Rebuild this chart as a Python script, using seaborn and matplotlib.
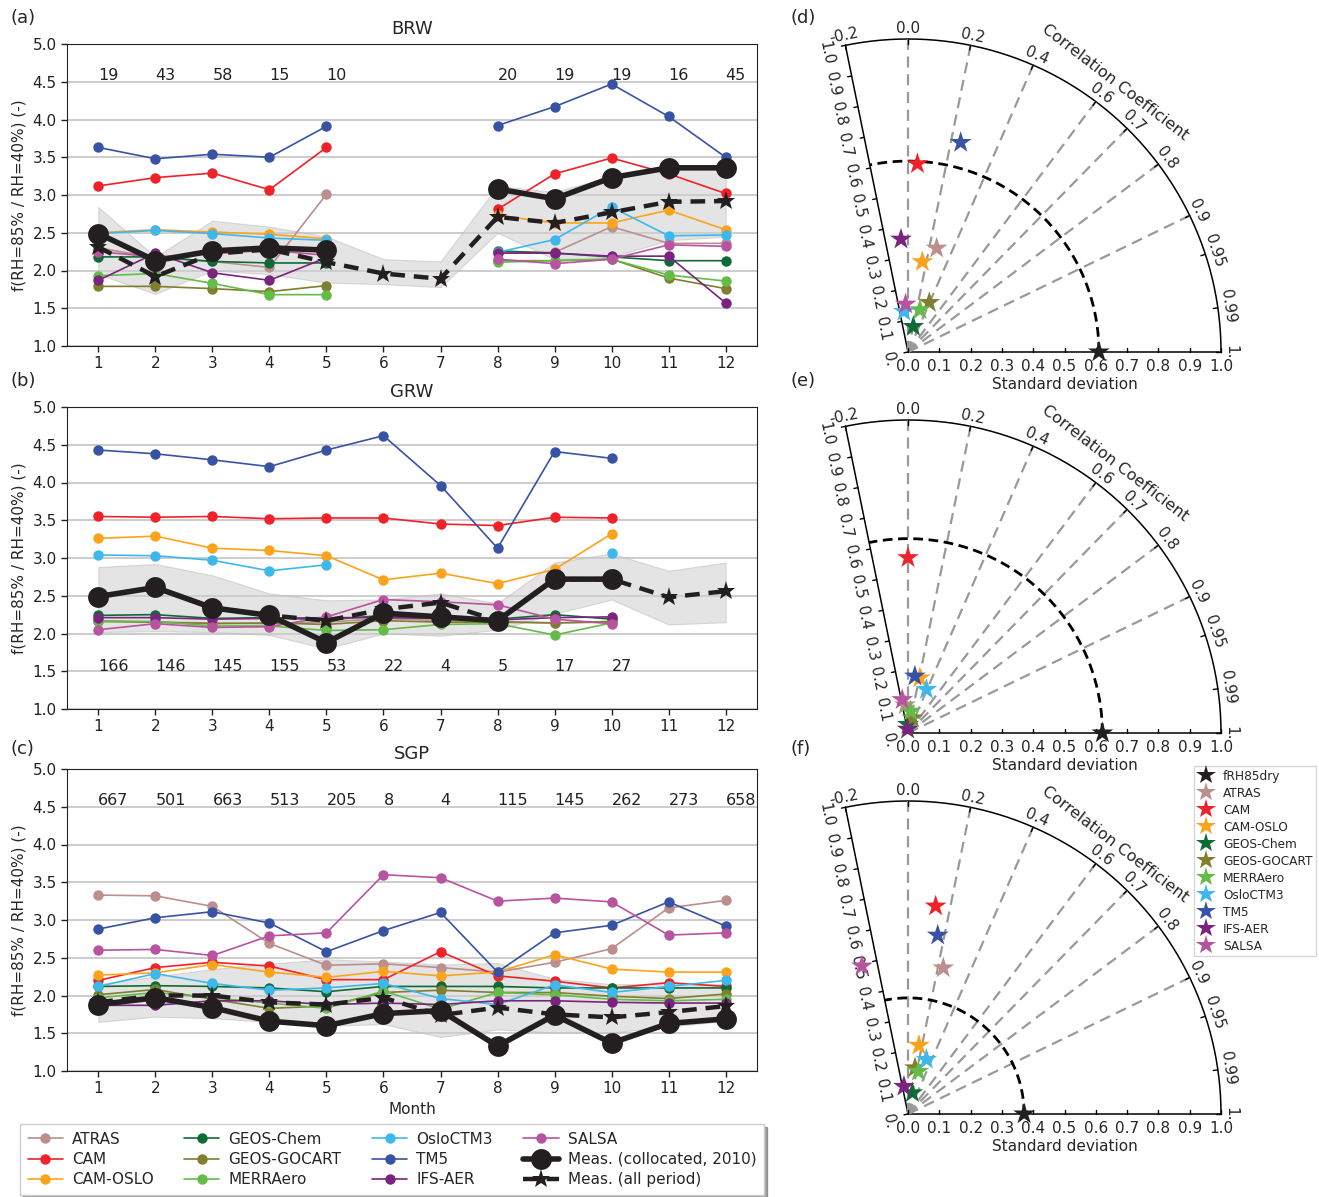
import numpy as np
import pandas as pd
import matplotlib
matplotlib.use('Agg')
import matplotlib.pyplot as plt
import seaborn as sns
from matplotlib.lines import Line2D

nan = np.nan

MONTHS = list(range(1, 13))
MODELS = ['ATRAS', 'CAM', 'CAM-OSLO', 'GEOS-Chem', 'GEOS-GOCART', 'MERRAero',
          'OsloCTM3', 'TM5', 'IFS-AER', 'SALSA']
COLORS = ['#BC8E8E', '#EE2228', '#FBA31C', '#0F6B36', '#7F7F2F', '#64BB47',
          '#3EB8EA', '#3953A4', '#7A2480', '#B8549F']
MEAS_COLOR = '#231F20'

# ---- BRW (a) ----
brw_atras = [2.30, 2.17, 2.12, 2.04, 3.01, nan, nan, 2.24, 2.24, 2.58, 2.36, 2.36]
brw_cam = [3.12, 3.23, 3.29, 3.07, 3.63, nan, nan, 2.81, 3.28, 3.49, 3.28, 3.02]
brw_camoslo = [2.50, 2.54, 2.51, 2.48, 2.42, nan, nan, 2.73, 2.63, 2.63, 2.80, 2.54]
brw_geoschem = [2.18, 2.18, 2.12, 2.10, 2.10, nan, nan, 2.26, 2.23, 2.18, 2.13, 2.13]
brw_gocart = [1.79, 1.79, 1.76, 1.72, 1.80, nan, nan, 2.13, 2.13, 2.15, 1.90, 1.76]
brw_merra = [1.93, 1.96, 1.83, 1.68, 1.68, nan, nan, 2.11, 2.13, 2.15, 1.94, 1.86]
brw_oslo = [2.49, 2.53, 2.49, 2.43, 2.40, nan, nan, 2.24, 2.41, 2.84, 2.46, 2.47]
brw_tm5 = [3.63, 3.48, 3.54, 3.50, 3.91, nan, nan, 3.92, 4.17, 4.47, 4.04, 3.50]
brw_ifs = [1.87, 2.23, 1.97, 1.87, 2.17, nan, nan, 2.23, 2.23, 2.19, 2.19, 1.57]
brw_salsa = [2.25, 2.18, 2.22, 2.27, 2.20, nan, nan, 2.15, 2.09, 2.15, 2.34, 2.32]
brw_coll = [2.49, 2.13, 2.26, 2.30, 2.27, nan, nan, 3.08, 2.95, 3.23, 3.36, 3.36]
brw_all = [2.31, 1.92, 2.22, 2.28, 2.11, 1.96, 1.89, 2.71, 2.63, 2.77, 2.91, 2.92]
brw_lo = [1.95, 1.69, 2.00, 1.95, 1.84, 1.82, 1.78, 2.50, 2.15, 2.18, 2.40, 2.45]
brw_hi = [2.84, 2.18, 2.66, 2.58, 2.45, 2.15, 2.12, 3.12, 3.04, 3.25, 3.35, 3.35]
brw_n = [19, 43, 58, 15, 10, None, None, 20, 19, 19, 16, 45]

# ---- GRW (b) ----
grw_atras = [2.17, 2.15, 2.14, 2.13, 2.15, 2.20, 2.17, 2.16, 2.14, 2.15, nan, nan]
grw_cam = [3.55, 3.54, 3.55, 3.52, 3.53, 3.53, 3.45, 3.43, 3.54, 3.53, nan, nan]
grw_camoslo = [3.26, 3.29, 3.13, 3.10, 3.03, 2.71, 2.80, 2.66, 2.85, 3.32, nan, nan]
grw_geoschem = [2.24, 2.25, 2.20, 2.21, 2.18, 2.24, 2.20, 2.19, 2.25, 2.19, nan, nan]
grw_gocart = [2.16, 2.15, 2.13, 2.14, 2.12, 2.17, 2.15, 2.15, 2.14, 2.16, nan, nan]
grw_merra = [2.16, 2.16, 2.10, 2.10, 2.04, 2.05, 2.12, 2.13, 1.98, 2.14, nan, nan]
grw_oslo = [3.04, 3.03, 2.97, 2.83, 2.91, nan, nan, nan, nan, 3.07, nan, nan]
grw_tm5 = [4.43, 4.38, 4.30, 4.21, 4.43, 4.62, 3.96, 3.13, 4.41, 4.32, nan, nan]
grw_ifs = [2.21, 2.21, 2.19, 2.20, 2.21, 2.21, 2.20, 2.18, 2.21, 2.22, nan, nan]
grw_salsa = [2.05, 2.13, 2.08, 2.09, 2.22, 2.45, 2.42, 2.38, 2.19, 2.13, nan, nan]
grw_coll = [2.49, 2.61, 2.34, 2.24, 1.88, 2.27, 2.22, 2.17, 2.72, 2.72, nan, nan]
grw_all = [2.49, 2.61, 2.34, 2.24, 2.17, 2.32, 2.41, 2.17, 2.72, 2.72, 2.48, 2.56]
grw_lo = [2.02, 2.03, 2.02, 1.98, 1.80, 2.00, 1.97, 2.05, 2.26, 2.45, 2.12, 2.15]
grw_hi = [2.88, 2.92, 2.77, 2.53, 2.44, 2.45, 2.53, 2.40, 2.94, 3.06, 2.83, 2.94]
grw_n = [166, 146, 145, 155, 53, 22, 4, 5, 17, 27, None, None]

# ---- SGP (c) ----
sgp_atras = [3.33, 3.32, 3.18, 2.69, 2.40, 2.42, 2.37, 2.31, 2.44, 2.62, 3.16, 3.26]
sgp_cam = [2.20, 2.37, 2.44, 2.39, 2.21, 2.21, 2.58, 2.26, 2.19, 2.10, 2.17, 2.12]
sgp_camoslo = [2.27, 2.30, 2.41, 2.31, 2.24, 2.32, 2.26, 2.31, 2.54, 2.35, 2.31, 2.31]
sgp_geoschem = [2.12, 2.13, 2.12, 2.10, 2.05, 2.12, 2.12, 2.12, 2.10, 2.10, 2.10, 2.10]
sgp_gocart = [2.01, 2.08, 1.95, 1.83, 1.86, 2.04, 2.07, 2.04, 2.04, 1.99, 1.96, 2.02]
sgp_merra = [1.97, 2.04, 1.97, 1.90, 1.83, 2.06, 1.82, 2.04, 2.01, 1.95, 1.93, 1.95]
sgp_oslo = [2.12, 2.29, 2.16, 2.07, 2.10, 2.16, 1.96, 1.88, 2.14, 2.04, 2.12, 2.20]
sgp_tm5 = [2.88, 3.03, 3.11, 2.96, 2.58, 2.86, 3.10, 2.31, 2.83, 2.93, 3.24, 2.92]
sgp_ifs = [1.87, 1.87, 1.93, 1.93, 1.88, 1.90, 1.88, 1.93, 1.93, 1.91, 1.90, 1.90]
sgp_salsa = [2.60, 2.61, 2.53, 2.79, 2.83, 3.60, 3.56, 3.25, 3.29, 3.24, 2.80, 2.83]
sgp_coll = [1.88, 1.97, 1.84, 1.66, 1.60, 1.76, 1.80, 1.33, 1.74, 1.37, 1.63, 1.69]
sgp_all = [1.91, 2.00, 2.00, 1.91, 1.88, 1.97, 1.74, 1.84, 1.75, 1.71, 1.78, 1.86]
sgp_lo = [1.65, 1.72, 1.70, 1.65, 1.60, 1.62, 1.45, 1.55, 1.51, 1.51, 1.59, 1.66]
sgp_hi = [2.15, 2.25, 2.35, 2.42, 2.48, 2.45, 2.41, 2.43, 2.22, 2.15, 2.15, 2.15]
sgp_n = [667, 501, 663, 513, 205, 8, 4, 115, 145, 262, 273, 658]

# ---- Taylor diagrams (d, e, f) ----
TAYLOR_NAMES = ['fRH85dry'] + MODELS
TAYLOR_COLORS = [MEAS_COLOR] + COLORS
d_std = [0.61, 0.344, 0.602, 0.292, 0.083, 0.172, 0.140, 0.130, 0.690, 0.361, 0.153]
d_corr = [1.0, 0.266, 0.05, 0.157, 0.205, 0.396, 0.274, -0.10, 0.244, -0.062, -0.05]
e_std = [0.621, 0.09, 0.56, 0.18, 0.027, 0.05, 0.07, 0.151, 0.183, 0.012, 0.108]
e_corr = [1.0, -0.10, 0.0, 0.21, 0.0, 0.28, 0.12, 0.39, 0.12, -0.10, -0.17]
f_std = [0.371, 0.480, 0.670, 0.222, 0.069, 0.149, 0.140, 0.184, 0.579, 0.089, 0.495]
f_corr = [1.0, 0.235, 0.132, 0.158, 0.20, 0.15, 0.236, 0.32, 0.164, -0.145, -0.297]

CORR_TICKS = [-0.2, 0.0, 0.2, 0.4, 0.6, 0.7, 0.8, 0.9, 0.95, 0.99, 1.0]
CORR_LABELS = ['-0.2', '0.0', '0.2', '0.4', '0.6', '0.7', '0.8', '0.9', '0.95', '0.99', '1.']
CORR_GRID = [0.0, 0.2, 0.4, 0.6, 0.7, 0.8, 0.9]
STD_TICKS = [0.0, 0.1, 0.2, 0.3, 0.4, 0.5, 0.6, 0.7, 0.8, 0.9, 1.0]

sns.set_style('ticks')
plt.rcParams['font.family'] = ['DejaVu Sans']
plt.rcParams['axes.edgecolor'] = '#222222'

PALETTE = dict(zip(MODELS, COLORS))


def long_frame(series) :
    """Series dict -> long frame, one unit per run without gaps"""
    rows = []
    for name, vals in series.items() :
        seg = 0
        for m, v in zip(MONTHS, vals) :
            if np.isnan(v) :
                seg += 1
                continue
            rows.append((name, f'{name}-{seg}', m, v))
    return pd.DataFrame(rows, columns=['model', 'segment', 'month', 'value'])


def station_panel(ax, title, models, coll, allp, lo, hi, counts, count_y, xlabel) :
    ax.fill_between(MONTHS, lo, hi, facecolor='#cfcfcf', edgecolor='#bdbdbd',
                    alpha=0.55, lw=0.8, zorder=1)
    df = long_frame(dict(zip(MODELS, models)))
    sns.lineplot(data=df, x='month', y='value', hue='model', units='segment',
                 estimator=None, palette=PALETTE, hue_order=MODELS, marker='o',
                 markersize=7.5, markeredgewidth=0, linewidth=1.2, legend=False,
                 ax=ax, zorder=3)
    dc = long_frame({'coll' : coll})
    sns.lineplot(data=dc, x='month', y='value', units='segment', estimator=None,
                 color=MEAS_COLOR, marker='o', markersize=15, markeredgewidth=0,
                 linewidth=4, legend=False, ax=ax, zorder=6)
    da = long_frame({'all' : allp})
    sns.lineplot(data=da, x='month', y='value', units='segment', estimator=None,
                 color=MEAS_COLOR, marker='*', markersize=14, markeredgewidth=0,
                 linewidth=3.2, linestyle=(0, (3.3, 2)), legend=False, ax=ax, zorder=5)
    for m, n in zip(MONTHS, counts) :
        if n is not None :
            ax.text(m, count_y, str(n), ha='left', va='baseline', fontsize=11.5,
                    color='#222222', zorder=7)
    ax.set_xlim(0.45, 12.55)
    ax.set_ylim(1.0, 5.0)
    ax.set_xticks(MONTHS)
    ax.set_yticks(np.arange(1.0, 5.01, 0.5))
    ax.set_yticklabels([f'{v:.1f}' for v in np.arange(1.0, 5.01, 0.5)])
    ax.yaxis.grid(True, color='#cccccc', lw=1.4)
    ax.set_axisbelow(True)
    ax.tick_params(labelsize=11, length=4, width=1, colors='#222222')
    ax.set_title(title, fontsize=13, pad=7)
    ax.set_ylabel('f(RH=85% / RH=40%) (-)', fontsize=11)
    ax.set_xlabel(xlabel, fontsize=11)


def taylor_panel(ax, std, corr, ref_std) :
    tmax = np.arccos(-0.2)
    th = np.linspace(0, tmax, 300)
    ax.plot(np.cos(th), np.sin(th), color='k', lw=1.1)
    ax.plot([0, 1], [0, 0], color='k', lw=1.1)
    ax.plot([0, np.cos(tmax)], [0, np.sin(tmax)], color='k', lw=1.1)
    for c in CORR_GRID :
        t = np.arccos(c)
        ax.plot([0, np.cos(t)], [0, np.sin(t)], color='#999999', lw=1.6,
                linestyle=(0, (5, 3)))
    ax.plot(ref_std * np.cos(th), ref_std * np.sin(th), color='k', lw=2,
            linestyle=(0, (3.5, 2)))
    # correlation ticks + labels round the arc
    for c, lab in zip(CORR_TICKS, CORR_LABELS) :
        t = np.arccos(c)
        ax.plot([0.985 * np.cos(t), np.cos(t)], [0.985 * np.sin(t), np.sin(t)],
                color='k', lw=1)
        ax.text(1.032 * np.cos(t), 1.032 * np.sin(t), lab, ha='center', va='center',
                rotation=np.degrees(t) - 90, rotation_mode='anchor', fontsize=11)
    # std ticks on the bottom edge and the left edge
    nx, ny = -np.sin(tmax), np.cos(tmax)
    for r in STD_TICKS :
        ax.plot([r, r], [0, 0.013], color='k', lw=1)
        ax.text(r, -0.045, f'{r:.1f}', ha='center', va='center', fontsize=11)
        ex, ey = r * np.cos(tmax), r * np.sin(tmax)
        ax.plot([ex, ex + 0.013 * nx], [ey, ey + 0.013 * ny], color='k', lw=1)
        lab = '0.' if r == 0 else f'{r:.1f}'
        lx, ly = (r - 0.012) * np.cos(tmax), (r - 0.012) * np.sin(tmax)
        ax.text(lx + 0.064 * nx, ly + 0.064 * ny, lab, ha='center', va='center',
                rotation=np.degrees(tmax) - 180, rotation_mode='anchor', fontsize=11)
    ax.text(1.086 * np.cos(np.radians(52.5)), 1.086 * np.sin(np.radians(52.5)),
            'Correlation Coefficient', ha='center', va='center', rotation=-37.5,
            rotation_mode='anchor', fontsize=11.5)
    ax.text(0.5, -0.105, 'Standard deviation', ha='center', va='center', fontsize=11)
    std = np.asarray(std)
    corr = np.asarray(corr)
    ds = pd.DataFrame({ 'model' : TAYLOR_NAMES, 'x' : std * corr,
                        'y' : std * np.sqrt(1 - corr ** 2) })
    sns.scatterplot(data=ds, x='x', y='y', hue='model', hue_order=TAYLOR_NAMES,
                    palette=dict(zip(TAYLOR_NAMES, TAYLOR_COLORS)), marker='*',
                    s=270, linewidth=0, legend=False, ax=ax, zorder=5, clip_on=False)
    ax.set_xlim(-0.3, 1.1)
    ax.set_ylim(-0.1, 1.1)
    ax.set_axis_off()


fig = plt.figure(figsize=(13.19, 11.97), dpi=100)
fig.patch.set_facecolor('white')

W, H = 1319.0, 1197.0
line_left, line_w, line_h = 67 / W, 690 / W, 302 / H
ax_a = fig.add_axes([line_left, 1 - 346 / H, line_w, line_h])
ax_b = fig.add_axes([line_left, 1 - 709 / H, line_w, line_h])
ax_c = fig.add_axes([line_left, 1 - 1071 / H, line_w, line_h])

station_panel(ax_a, 'BRW',
              [brw_atras, brw_cam, brw_camoslo, brw_geoschem, brw_gocart, brw_merra,
               brw_oslo, brw_tm5, brw_ifs, brw_salsa],
              brw_coll, brw_all, brw_lo, brw_hi, brw_n, 4.52, '')
station_panel(ax_b, 'GRW',
              [grw_atras, grw_cam, grw_camoslo, grw_geoschem, grw_gocart, grw_merra,
               grw_oslo, grw_tm5, grw_ifs, grw_salsa],
              grw_coll, grw_all, grw_lo, grw_hi, grw_n, 1.5, '')
station_panel(ax_c, 'SGP',
              [sgp_atras, sgp_cam, sgp_camoslo, sgp_geoschem, sgp_gocart, sgp_merra,
               sgp_oslo, sgp_tm5, sgp_ifs, sgp_salsa],
              sgp_coll, sgp_all, sgp_lo, sgp_hi, sgp_n, 4.52, 'Month')

# Taylor axes: 1 std unit = 313 px, origin at x=908
t_left = (908 - 0.3 * 313) / W
t_w, t_h = 1.4 * 313 / W, 1.2 * 313 / H
for oy, std, corr, ref in [(352, d_std, d_corr, d_std[0]),
                           (733, e_std, e_corr, e_std[0]),
                           (1114, f_std, f_corr, f_std[0])] :
    tax = fig.add_axes([t_left, 1 - (oy + 0.1 * 313) / H, t_w, t_h])
    tax.patch.set_visible(False)
    taylor_panel(tax, std, corr, ref)

for lab, x, y in [('(a)', 10, 18), ('(b)', 10, 381), ('(c)', 10, 749),
                  ('(d)', 790, 18), ('(e)', 790, 381), ('(f)', 790, 749)] :
    fig.text(x / W, 1 - y / H, lab, ha='left', va='center', fontsize=13)

# bottom legend for the line panels
handles = [Line2D([], [], color=c, marker='o', markersize=7.5, markeredgewidth=0, lw=1.2)
           for c in COLORS]
handles.append(Line2D([], [], color=MEAS_COLOR, marker='o', markersize=15,
                      markeredgewidth=0, lw=4))
handles.append(Line2D([], [], color=MEAS_COLOR, marker='*', markersize=14,
                      markeredgewidth=0, lw=3.2, linestyle=(0, (3.3, 2))))
labels = MODELS + ['Meas. (collocated, 2010)', 'Meas. (all period)']
fig.legend(handles, labels, loc='upper left', bbox_to_anchor=(20 / W, 1 - 1124 / H),
           ncol=4, fontsize=11, frameon=True, shadow=True, fancybox=False,
           edgecolor='#cccccc', labelspacing=0.35, handlelength=2.3,
           handletextpad=0.6, columnspacing=2.0, borderaxespad=0, borderpad=0.5)

# Taylor legend
t_handles = [Line2D([], [], color=c, marker='*', markersize=15, markeredgewidth=0, lw=0)
             for c in TAYLOR_COLORS]
fig.legend(t_handles, TAYLOR_NAMES, loc='upper left', bbox_to_anchor=(1194 / W, 1 - 766 / H),
           fontsize=8.7, frameon=True, fancybox=False, edgecolor='#cccccc',
           labelspacing=0.33, handlelength=1.4, handletextpad=0.7, borderaxespad=0,
           borderpad=0.3)

fig.savefig('out.png', dpi=100)
